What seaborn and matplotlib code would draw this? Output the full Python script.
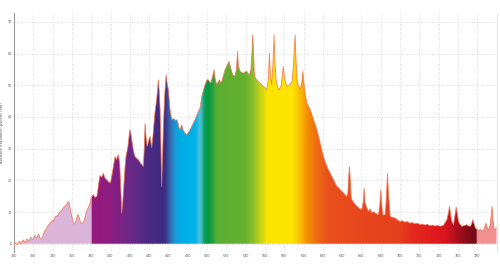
import numpy as np
import matplotlib
matplotlib.use("Agg")
import matplotlib.pyplot as plt
import seaborn as sns
from matplotlib.colors import LinearSegmentedColormap, to_rgb
from matplotlib.patches import PathPatch

# ---- data ----
wavelength = [
    300, 301, 302, 303, 304, 305, 306, 307, 308, 309, 310, 311, 312, 313, 314, 315, 316,
    317, 318, 319, 320, 321, 322, 323, 324, 325, 326, 327, 328, 329, 330,
    332, 333, 334, 335, 336, 337, 338, 339, 340, 341, 342, 343, 344, 345, 346, 347, 348,
    349, 350, 351, 352, 353, 354, 355, 356, 357, 358, 360,
    362, 364, 366, 367, 369, 371, 373, 375, 376, 377, 378, 379, 380,
    382, 384, 386, 388, 389, 391, 392.6, 394, 396, 398, 400, 402, 404.7, 406, 408,
    409.5, 411, 411.6, 412.5, 413.3, 415, 416, 418, 420, 421, 422, 424, 425.4, 427,
    428.9, 431, 434, 435, 435.8, 437, 438, 440, 441, 442.7, 444, 446, 448, 449.6,
    450.5, 451.4, 452.3, 453, 454, 454.8, 456, 457.6, 459, 460, 461.7, 463.5, 465,
    467, 468.7, 470, 471, 472, 473.8, 475, 477, 479, 480.5, 482.5, 485, 487.6, 490,
    492.8, 494.6, 496, 498, 500, 501.4, 503, 504, 506, 507.3, 508.5, 510, 511.5,
    512.8, 514, 515.3, 517, 518.7, 520.5, 522, 523, 524.5, 526.6, 529, 530.5, 531.7,
    532.5, 534.3, 536, 537.7, 539.5, 541.2, 543, 544, 545.5, 546.5, 547.4, 548.3,
    549, 550, 553, 556.8, 559, 562, 563.5, 564.7, 565.8, 567, 568.2, 569.5, 570.5,
    571.6, 573, 575, 577, 578, 579, 580.5, 582.7, 586, 588, 589.5, 590.5, 591.3,
    592.2, 593.7, 596.5, 598.3, 599.3, 600.3, 601.7, 603.4, 605, 606.9, 608.5, 610.3,
    612, 613.8, 615.5, 617.2, 619, 620.7, 622.5, 624.2, 626, 627.6, 629.3, 631, 633,
    634.5, 636, 638, 640, 641.4, 643, 644.9, 646, 646.8, 647.6, 648.5, 649.3, 650,
    652.5, 655.3, 658, 660.5, 661.8, 662.8, 663.8, 665, 666, 667.3, 669, 670.8,
    672.5, 674.3, 676, 677.7, 679, 680.1, 681.2, 682.2, 684.6, 685.8, 687, 688, 689.8,
    692, 695, 697, 700, 702, 705, 707, 710.5, 713, 715, 718, 720.9, 723, 726, 728,
    731.2, 734, 736, 739, 741.6, 745, 748.6, 750, 751.3,
    752.5, 753.7, 755.4, 757, 758.2, 759.5, 760.6, 762, 764, 767, 769.3, 771, 772.7, 774,
    775.5, 777, 778, 780, 781.4, 783, 785, 787, 789, 790.5, 791.8, 793.5, 794.5, 795.3,
    796.3, 797.6, 800,
]
irradiance = [
    -0.5, 0.2, 0.3, -0.3, -0.2, 0.6, 0.8, 0.1, 0.3, 1.0, 1.2, 0.4, 0.6, 1.4, 1.5, 0.7, 1.0,
    1.9, 2.0, 1.2, 1.5, 2.4, 2.6, 1.8, 2.0, 2.9, 2.8, 1.6, 1.4, 2.0, 2.5,
    4.2, 4.4, 5.0, 5.6, 6.0, 6.2, 6.8, 7.0, 7.4, 7.2, 8.0, 8.6, 8.8, 8.7, 9.3, 9.9, 10.2,
    10.3, 10.8, 11.3, 11.6, 11.9, 12.3, 12.5, 13.3, 13.0, 11.5, 8.5,
    6.2, 7.0, 9.2, 8.8, 6.8, 6.3, 7.5, 10.3, 10.8, 11.5, 12.0, 12.8, 14.5,
    15.5, 14.6, 15.0, 19.5, 21.5, 21.0, 22.3, 20.8, 20.2, 19.5, 19.2, 22.5, 27.5, 26.5, 28.1,
    25.5, 15, 9.7, 12, 16, 24, 27.5, 30.5, 36, 35, 32.8, 29, 27.5, 27,
    26.5, 25.5, 24.4, 30, 38, 33, 30.7, 33, 33.8, 30.3, 34, 41.2, 46, 51.7,
    48, 42.3, 30, 18, 28, 37, 46, 53.3, 50, 48.6, 42.3, 39.1, 39.5,
    39, 39.1, 38, 36.5, 36, 37.5, 36, 35, 34.4, 35, 36, 37.5, 39.1, 41,
    42.8, 46.5, 48, 50.2, 51.7, 51.7, 51, 50.7, 53, 54.9, 52, 50.2, 51,
    51.7, 50.8, 51.2, 53, 54.9, 56, 57, 57.5, 55.5, 53.3, 52.8, 55, 60.7,
    56, 54.4, 54, 53.8, 54.2, 54.4, 53.5, 53.3, 55, 60, 65.9, 60,
    54, 52.3, 51.2, 50.2, 49.5, 48.6, 52, 60.2, 53, 50.2, 56, 65.9, 57,
    51.7, 49.5, 48.6, 50, 53, 55.9, 52, 49.6, 50.2, 51, 56, 62, 65.9,
    58, 50.7, 48.6, 51, 54.4, 51, 47.5, 44.4, 43.5, 42.3, 41, 39.1,
    37.8, 36, 34, 31.8, 29.5, 27.5, 25.8, 24.4, 23.2, 22.3, 21.2, 20.2, 19,
    18.1, 17.8, 17, 16.5, 16, 15.5, 14.9, 16, 21, 24.4, 20, 15, 13.9,
    12.8, 11.8, 11.2, 10.7, 13, 17.6, 13, 11.8, 11, 10.2, 11, 9.7,
    10.1, 9.7, 9.4, 9.1, 12, 17, 12, 9.1, 9.1, 14, 22.3, 16, 8.6,
    8.3, 8.1, 7.6, 7, 7.3, 6.8, 7.0, 6.5, 6.7, 6.3, 6.5, 6, 6.2, 5.9, 6.1,
    5.7, 5.9, 5.6, 5.8, 5.5, 5.8, 7.6, 9.5, 11.8,
    9, 7, 6, 9, 11.6, 9, 7, 6.2, 5.5, 5.8, 6, 5.6, 5.5, 6,
    7.6, 6, 5, 4.5, 3.9, 4.6, 3.9, 4.5, 6.5, 5, 4.4, 6, 9, 11.8,
    8, 4.4, 5,
]
x_ticks = list(range(300, 781, 20))
y_ticks = list(range(0, 71, 10))
y_label = "Absolute Irradiance (µW/cm²/nm)"

# spectral colour stops (nm, colour)
stop_nm = [300, 379.9, 380, 400, 420, 440, 456, 461, 467, 472, 488, 493, 497, 501, 506,
           510, 540, 548, 556, 562, 588, 596, 604, 614, 626, 660, 700, 712, 735, 748,
           760, 779.9, 780, 800.5]
stop_col = ["#dbb5d9", "#dbb5d9", "#961a7e", "#8e1c80", "#6b2a87", "#4a2b84", "#3c2c80",
            "#3562a8", "#1a9ad8", "#00ade6", "#00b2e6", "#55c3dc", "#10a060", "#00983e",
            "#2aa040", "#5aae32", "#66b030", "#8ebe2a", "#c8d41a", "#f8e400", "#ffe500",
            "#fbc000", "#f39000", "#ee6c14", "#e9501c", "#e8461e", "#e4401c", "#e32c1c",
            "#e01a1e", "#d8151e", "#a80f1e", "#6a0a14", "#f29090", "#f29090"]

sns.set_style("white")
plt.rcParams["font.family"] = ["DejaVu Sans"]

fig = plt.figure(figsize=(5.0, 2.66), dpi=100)
ax = fig.add_axes([0.028, 0.0526, 0.966, 0.8985])

x_min, x_max = 300, 800.5
y_min, y_max = -2.6, 72.8

# gradient image clipped to the area under the curve
lo, hi = stop_nm[0], stop_nm[-1]
cmap = LinearSegmentedColormap.from_list(
    "spec", [((n - lo) / (hi - lo), to_rgb(c)) for n, c in zip(stop_nm, stop_col)], N=1024)
grad = np.linspace(0, 1, 1200).reshape(1, -1)
im = ax.imshow(grad, cmap=cmap, aspect="auto", extent=[lo, hi, y_min, y_max],
               origin="lower", interpolation="bilinear", zorder=2)
poly = ax.fill_between(wavelength, irradiance, 0, color="none", lw=0, zorder=1)
clip = PathPatch(poly.get_paths()[0], transform=ax.transData,
                 facecolor="none", edgecolor="none")
ax.add_patch(clip)
im.set_clip_path(clip)

# outline
sns.lineplot(x=wavelength, y=irradiance, ax=ax, color="#f0724e", lw=0.6,
             alpha=0.85, zorder=3, estimator=None, sort=False)

ax.set_xlim(x_min, x_max)
ax.set_ylim(y_min, y_max)
ax.set_xticks(x_ticks)
ax.set_yticks(y_ticks)
ax.set_xticklabels([str(t) for t in x_ticks])
ax.set_yticklabels([str(t) for t in y_ticks])
ax.tick_params(axis="both", length=0, labelsize=2.4, colors="#555555", pad=1.2)
ax.grid(True, linestyle=(0, (1, 2)), color="#cfcfcf", lw=0.6, zorder=0)
ax.set_axisbelow(True)
for s in ["top", "bottom"]:
    ax.spines[s].set_visible(False)
ax.spines["left"].set_color("#9a9a9a")
ax.spines["left"].set_linewidth(0.8)
ax.spines["right"].set_color("#e0e0e0")
ax.spines["right"].set_linewidth(0.6)
ax.set_xlabel("")
ax.set_ylabel(y_label, fontsize=2.6, color="#555555", labelpad=3)

fig.savefig("out.png", dpi=100)
